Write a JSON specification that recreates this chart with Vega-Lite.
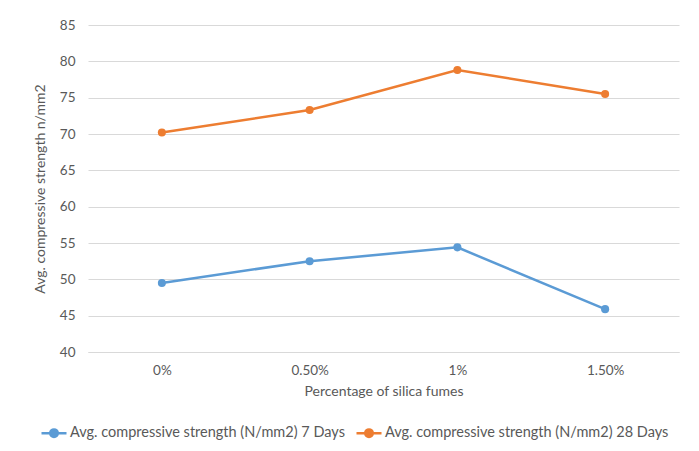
{
  "$schema": "https://vega.github.io/schema/vega-lite/v6.json",
  "width": 591,
  "height": 327,
  "autosize": {"type": "none"},
  "padding": {"left": 88, "top": 25, "right": 20, "bottom": 99},
  "background": "white",
  "config": {
    "font": "Lato",
    "view": {"stroke": null},
    "axis": {"labelColor": "#595959", "titleColor": "#595959", "labelFontSize": 13.5, "titleFontSize": 14, "titleFontWeight": "normal", "gridColor": "#d9d9d9", "gridWidth": 1, "ticks": false, "domain": false}
  },
  "data": {
    "values": [
      {"pct": "0%", "series": "Avg. compressive strength (N/mm2) 7 Days", "value": 49.5},
      {"pct": "0.50%", "series": "Avg. compressive strength (N/mm2) 7 Days", "value": 52.5},
      {"pct": "1%", "series": "Avg. compressive strength (N/mm2) 7 Days", "value": 54.4},
      {"pct": "1.50%", "series": "Avg. compressive strength (N/mm2) 7 Days", "value": 45.9},
      {"pct": "0%", "series": "Avg. compressive strength (N/mm2) 28 Days", "value": 70.2},
      {"pct": "0.50%", "series": "Avg. compressive strength (N/mm2) 28 Days", "value": 73.3},
      {"pct": "1%", "series": "Avg. compressive strength (N/mm2) 28 Days", "value": 78.8},
      {"pct": "1.50%", "series": "Avg. compressive strength (N/mm2) 28 Days", "value": 75.5}
    ]
  },
  "encoding": {
    "x": {"field": "pct", "type": "ordinal", "sort": ["0%", "0.50%", "1%", "1.50%"], "scale": {"type": "point", "padding": 0.5},
      "axis": {"title": "Percentage of silica fumes", "labelAngle": 0, "labelPadding": 11, "titlePadding": 8, "grid": false, "domain": true, "domainColor": "#d9d9d9"}},
    "y": {"field": "value", "type": "quantitative", "scale": {"domain": [40, 85], "nice": false, "zero": false},
      "axis": {"title": "Avg. compressive strength n/mm2", "values": [40,45,50,55,60,65,70,75,80,85], "labelPadding": 13, "titlePadding": 12}},
    "color": {"field": "series", "type": "nominal", "sort": ["Avg. compressive strength (N/mm2) 7 Days", "Avg. compressive strength (N/mm2) 28 Days"],
      "scale": {"range": ["#5b9bd5", "#ed7d31"]},
      "legend": {"title": null, "orient": "none", "legendX": -48, "legendY": 394, "direction": "horizontal", "labelFontSize": 14.5, "labelColor": "#595959", "labelLimit": 400, "columnPadding": 6, "labelOffset": 2,
        "symbolType": "M-1,0L1,0M0.3,0A0.3,0.3,0,1,1,-0.3,0A0.3,0.3,0,1,1,0.3,0Z", "symbolSize": 625, "symbolStrokeWidth": 2.5}}
  },
  "layer": [
    {"mark": {"type": "line", "strokeWidth": 2.5}},
    {"mark": {"type": "point", "filled": true, "size": 65, "opacity": 1}}
  ]
}
